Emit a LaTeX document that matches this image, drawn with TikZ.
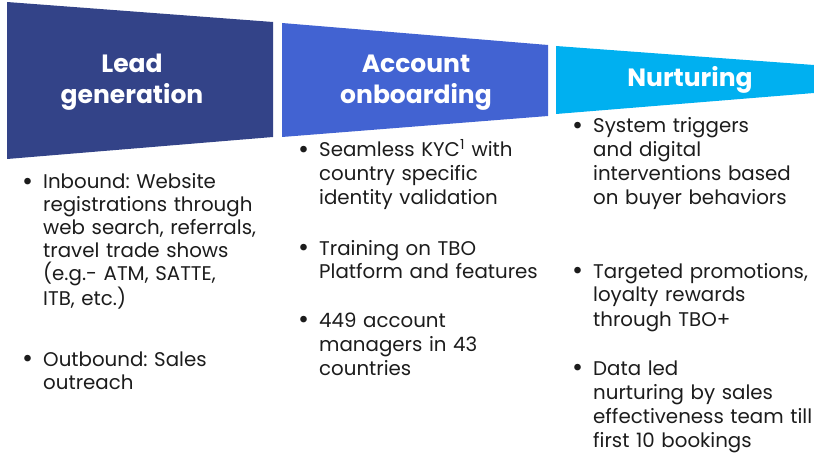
\documentclass[tikz,border=0pt]{standalone}
\usepackage{fontspec}
\usepackage{graphicx}
\setmainfont{Poppins}
\frenchspacing
\definecolor{leadblue}{HTML}{334388}
\definecolor{onboardblue}{HTML}{4263D2}
\definecolor{nurturecyan}{HTML}{00B0F0}
\definecolor{bodytext}{HTML}{1C1C1C}
\newcommand{\itembullet}{\llap{\makebox[21pt][l]{\raisebox{-0.08em}{\scalebox{1.35}{•}}}}}

\begin{document}
\begin{tikzpicture}[x=1pt, y=-1pt,
    title/.style={text=white, font=\fontsize{25}{31}\selectfont\bfseries,
      align=center, text width=240pt, anchor=base, inner sep=0pt},
    item/.style={text=bodytext, font=\fontsize{19.8}{24}\selectfont,
      align=left, text width=260pt, anchor=base west, inner sep=0pt}]
  \useasboundingbox (0,0) rectangle (814,457);

  % funnel stages
  \fill[leadblue] (7,2) -- (273,22) -- (273,137) -- (7,159) -- cycle;
  \fill[onboardblue] (282,23) -- (548,45) -- (548,116) -- (282,137) -- cycle;
  \fill[nurturecyan] (556,46) -- (814,65) -- (814,93) -- (556,114) -- cycle;

  \node[title] (lead) at (132,73) {Lead\\generation};
  \node[title] (onboard) at (416,73) {Account\\onboarding};
  \node[title] (nurture) at (690,87) {Nurturing};

  % lead generation
  \node[item, font=\fontsize{19.8}{23}\selectfont] (lead1) at (43,189) {\itembullet Inbound: Website\\registrations through\\web search, referrals,\\travel trade shows\\(e.g.- ATM, SATTE,\\ITB, etc.)};
  \node[item, font=\fontsize{19.8}{23}\selectfont] (lead2) at (43,366) {\itembullet Outbound: Sales\\outreach};

  % account onboarding
  \node[item] (onboard1) at (319,157) {\itembullet Seamless KYC\textsuperscript{1} with\\country specific\\identity validation};
  \node[item] (onboard2) at (319,255) {\itembullet Training on TBO\\Platform and features};
  \node[item] (onboard3) at (319,327) {\itembullet 449 account\\managers in 43\\countries};

  % nurturing
  \node[item] (nurture1) at (593,133) {\itembullet System triggers\\and digital\\interventions based\\on buyer behaviors};
  \node[item] (nurture2) at (593,278) {\itembullet Targeted promotions,\\loyalty rewards\\through TBO+};
  \node[item] (nurture3) at (593,375) {\itembullet Data led\\nurturing by sales\\effectiveness team till\\first 10 bookings};
\end{tikzpicture}
\end{document}
